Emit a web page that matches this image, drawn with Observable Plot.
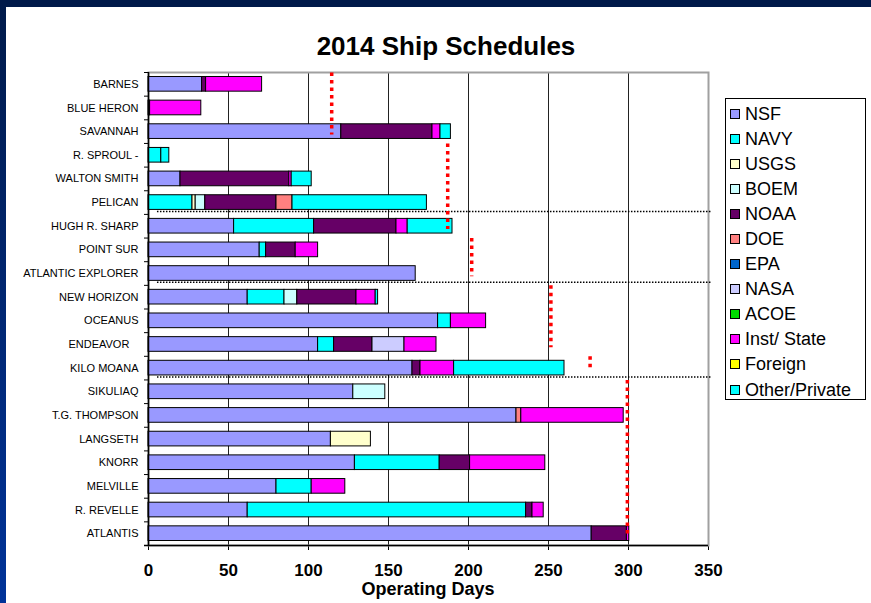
<!DOCTYPE html>
<html>
<head>
<meta charset="utf-8">
<script src="https://cdn.jsdelivr.net/npm/d3@7"></script>
<script src="https://cdn.jsdelivr.net/npm/@observablehq/plot@0.6"></script>
<style>
html, body { margin: 0; padding: 0; background: #fff; }
body { width: 871px; height: 603px; position: relative; overflow: hidden; font-family: Arial, "Liberation Sans", sans-serif; color: #000; }
#chart { position: absolute; left: 0; top: 0; }
#chart svg { background: transparent; overflow: visible; }
g[aria-label^="x-axis"] text { font-weight: bold; font-size: 17px; }
#topbar { position: absolute; left: 0; top: 0; width: 871px; height: 7px; background: #001a4a; }
#leftbar { position: absolute; left: 0; top: 0; width: 6px; height: 603px; background: linear-gradient(#001a4a, #003399); }
#title { position: absolute; left: 446px; top: 33px; transform: translateX(-50%); font-weight: bold; font-size: 26px; line-height: 26px; white-space: nowrap; }
#xlabel { position: absolute; left: 428px; top: 579px; transform: translateX(-50%); font-weight: bold; font-size: 18px; line-height: 20px; white-space: nowrap; }
#legend { position: absolute; left: 725px; top: 98px; width: 141px; height: 302px; border: 1px solid #000; box-sizing: border-box; padding-top: 2px; background: #fff; }
.item { height: 25.1px; display: flex; align-items: center; font-size: 18px; line-height: 1; white-space: nowrap; }
.sw { display: inline-block; width: 8px; height: 8px; border: 1px solid #000; margin-left: 4px; margin-right: 5px; flex: none; }
</style>
</head>
<body>
<div id="chart"></div>
<div id="title">2014 Ship Schedules</div>
<div id="xlabel">Operating Days</div>
<div id="legend"></div>
<div id="topbar"></div>
<div id="leftbar"></div>
<script>
// ---- Data ----
const ships = ["BARNES", "BLUE HERON", "SAVANNAH", "R. SPROUL -", "WALTON SMITH", "PELICAN",
  "HUGH R. SHARP", "POINT SUR", "ATLANTIC EXPLORER", "NEW HORIZON", "OCEANUS", "ENDEAVOR",
  "KILO MOANA", "SIKULIAQ", "T.G. THOMPSON", "LANGSETH", "KNORR", "MELVILLE", "R. REVELLE", "ATLANTIS"];

const agencies = ["NSF", "NAVY", "USGS", "BOEM", "NOAA", "DOE", "EPA", "NASA", "ACOE", "Inst/ State", "Foreign", "Other/Private"];
const agencyColors = ["#9999FF", "#00FFFF", "#FFFFCC", "#CCFFFF", "#660066", "#FF8080", "#0066CC", "#CCCCFF", "#00DD00", "#FF00FF", "#FFFF00", "#00FFFF"];

// days per ship (same order as ships)
const nsf     = [33.5, 0, 120.5, 0, 20, 0, 53.5, 69.5, 167, 62, 181, 106, 165, 128, 230, 114, 129, 80, 62, 277];
const navy    = [0, 0, 0, 8, 0, 27.5, 50, 4, 0, 23, 8, 10, 0, 0, 0, 0, 53, 22, 174, 0];
const usgs    = [0, 0, 0, 0, 0, 2, 0, 0, 0, 0, 0, 0, 0, 0, 0, 25, 0, 0, 0, 0];
const boem    = [0, 0, 0, 0, 0, 6, 0, 0, 0, 8, 0, 0, 0, 20, 0, 0, 0, 0, 0, 0];
const noaa    = [2.5, 1, 57, 0, 68, 44.5, 51.5, 18.5, 0, 37, 0, 24, 5, 0, 0, 0, 19, 0, 4, 22];
const doe     = [0, 0, 0, 0, 0, 10, 0, 0, 0, 0, 0, 0, 0, 0, 3, 0, 0, 0, 0, 0];
const epa     = [0, 0, 0, 0, 0, 0, 0, 0, 0, 0, 0, 0, 0, 0, 0, 0, 0, 0, 0, 0];
const nasa    = [0, 0, 0, 0, 0, 0, 0, 0, 0, 0, 0, 20, 0, 0, 0, 0, 0, 0, 0, 0];
const acoe    = [0, 0, 0, 0, 0, 0, 0, 0, 0, 0, 0, 0, 0, 0, 0, 0, 0, 0, 0, 0];
const inst    = [35, 32, 5, 0, 1.5, 0, 7, 14, 0, 12, 22, 20, 21, 0, 64, 0, 47, 21, 7, 1.5];
const foreign = [0, 0, 0, 0, 0, 0, 0, 0, 0, 0, 0, 0, 0, 0, 0, 0, 0, 0, 0, 0];
const other   = [0, 0, 6.5, 5, 12.5, 84, 28, 0, 0, 1.5, 0, 0, 69, 0, 0, 0, 0, 0, 0, 0];

// red dotted target markers (days) spanning groups of ships
const targetFrom = ["BARNES", "R. SPROUL -", "POINT SUR", "NEW HORIZON", "KILO MOANA", "SIKULIAQ"];
const targetTo   = ["SAVANNAH", "HUGH R. SHARP", "ATLANTIC EXPLORER", "ENDEAVOR", "KILO MOANA", "ATLANTIS"];
const targetDays = [114.5, 187, 202, 251.5, 276, 299.3];

// first ship of each class (dotted separator above it)
const classBreaks = ["HUGH R. SHARP", "NEW HORIZON", "SIKULIAQ"];

const xTicks = [0, 50, 100, 150, 200, 250, 300, 350];
const gridDays = [50, 100, 150, 200, 250, 300];

// ---- Build tables ----
const series = [nsf, navy, usgs, boem, noaa, doe, epa, nasa, acoe, inst, foreign, other];
const rows = [];
ships.forEach((ship, i) => {
  agencies.forEach((agency, j) => {
    const v = series[j][i];
    if (v > 0) rows.push({ship, agency, days: v});
  });
});
const targets = targetDays.map((d, i) => ({days: d, from: targetFrom[i], to: targetTo[i]}));

// ---- Layout ----
const W = 871, H = 603, mL = 148, mR = 163, mT = 72, mB = 58;
const step = (H - mT - mB) / ships.length;

const chart = Plot.plot({
  width: W, height: H,
  marginLeft: mL, marginRight: mR, marginTop: mT, marginBottom: mB,
  style: {fontSize: "11px", fontFamily: "Arial, 'Liberation Sans', sans-serif", color: "#000", background: "transparent", overflow: "visible"},
  x: {domain: [0, 350], ticks: xTicks, tickSize: 5, tickPadding: 13, label: null},
  y: {domain: ships, paddingInner: 0.38, paddingOuter: 0.19, round: false, tickSize: 0, tickPadding: 10, label: null,
      tickFormat: d => d === "ENDEAVOR" ? d + "\u00a0\u00a0\u00a0" : d},
  color: {domain: agencies, range: agencyColors},
  marks: [
    Plot.ruleX(gridDays, {stroke: "#222", strokeWidth: 1}),
    Plot.frame({stroke: "#a0a0a0", strokeWidth: 2}),
    Plot.barX(rows, Plot.stackX({x: "days", y: "ship", fill: "agency", stroke: "#000", strokeWidth: 1})),
    Plot.ruleY(classBreaks, {y: d => d, x1: 5.6, x2: 352, dy: -step / 2 - 3, stroke: "#000", strokeWidth: 1.5, strokeDasharray: "1.5,1.5"}),
    Plot.ruleX(targets, {x: "days", y1: "from", y2: "to", dy: -4, stroke: "#FF0000", strokeWidth: 3.5, strokeDasharray: "3.5,4"}),
    Plot.ruleX([0], {stroke: "#000", strokeWidth: 1.5}),
    Plot.ruleY(ships, {y: d => d, x1: -2.5, x2: 0, dy: -step / 2, stroke: "#000"}),
    Plot.ruleY([ships[ships.length - 1]], {y: d => d, x1: -2.5, x2: 350, dy: step / 2, stroke: "#000", strokeWidth: 1.5})
  ]
});
document.getElementById("chart").appendChild(chart);

// ---- Legend ----
const legend = document.getElementById("legend");
agencies.forEach((a, i) => {
  const row = document.createElement("div");
  row.className = "item";
  const sw = document.createElement("span");
  sw.className = "sw";
  sw.style.background = agencyColors[i];
  const label = document.createElement("span");
  label.textContent = a;
  row.appendChild(sw);
  row.appendChild(label);
  legend.appendChild(row);
});
</script>
</body>
</html>
